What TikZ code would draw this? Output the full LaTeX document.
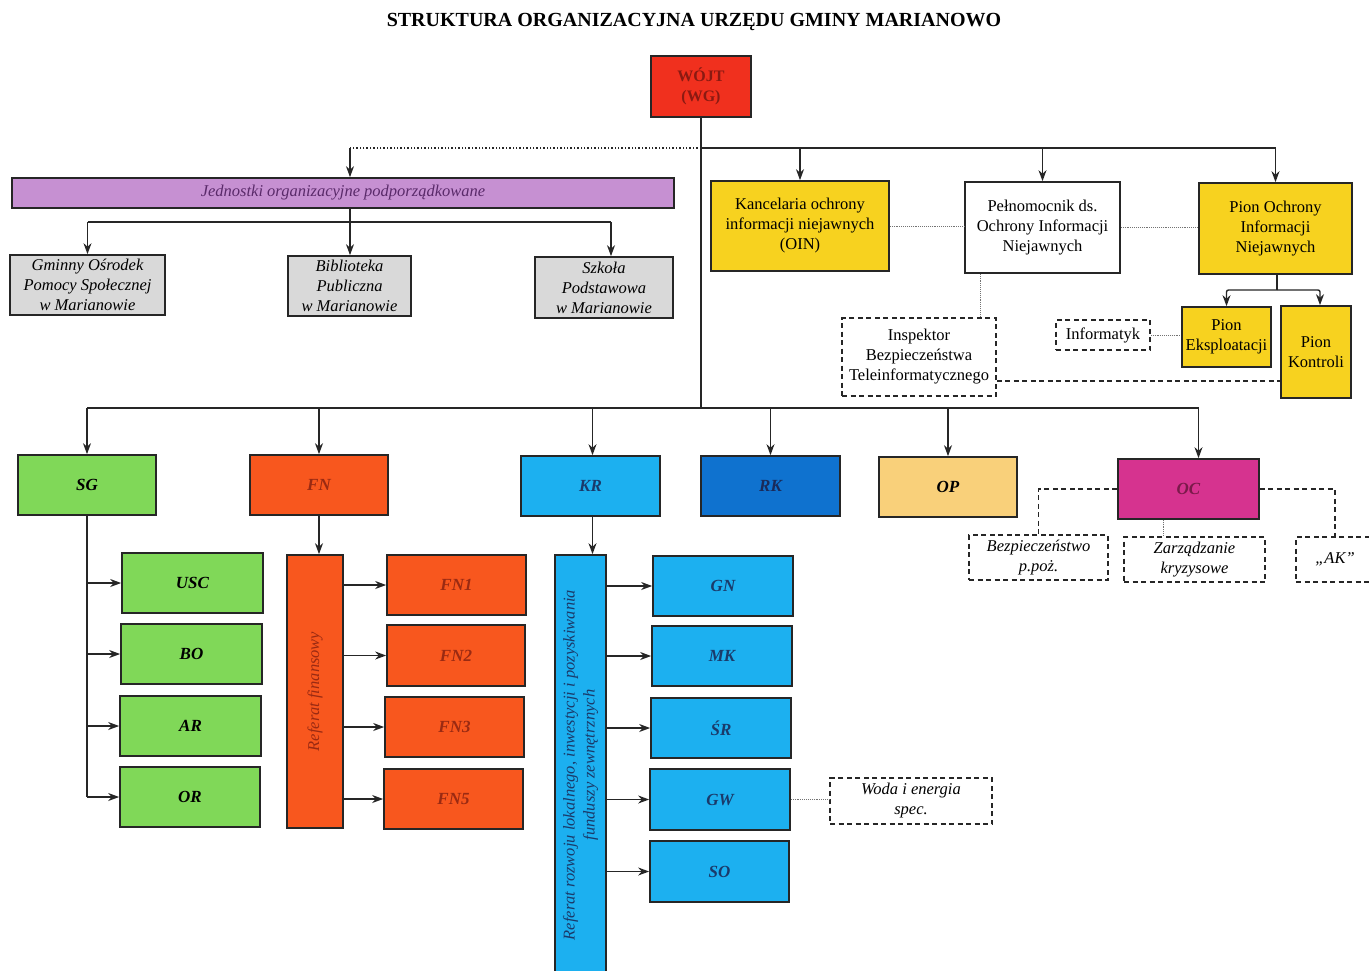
\documentclass[tikz,border=0pt]{standalone}
\usepackage{fontspec}
\setmainfont{Liberation Serif}
\usetikzlibrary{arrows.meta}
\definecolor{cwojt}{HTML}{F0301E}
\definecolor{cwojtT}{HTML}{8A1A12}
\definecolor{cpurp}{HTML}{C690D2}
\definecolor{cpurpT}{HTML}{5A2A6A}
\definecolor{cgray}{HTML}{D9D9D9}
\definecolor{cyel}{HTML}{F7D21F}
\definecolor{cgreen}{HTML}{80D858}
\definecolor{corange}{HTML}{F8571E}
\definecolor{corangeT}{HTML}{9A2A12}
\definecolor{cblue}{HTML}{1CB0F0}
\definecolor{cblueT}{HTML}{1A3A6A}
\definecolor{cdblue}{HTML}{0F72CF}
\definecolor{cdblueT}{HTML}{1A2A5A}
\definecolor{cop}{HTML}{F9D07A}
\definecolor{coc}{HTML}{D6338F}
\definecolor{cocT}{HTML}{7A1A4A}
\begin{document}
\begin{tikzpicture}[x=1pt,y=-1pt,
  every node/.style={inner sep=1pt, align=center},
  txt/.style={font=\fontsize{16.5}{20}\selectfont},
  bx/.style={draw=black!85, line width=1.7pt, txt},
  dbx/.style={draw=black!85, line width=1.6pt, dash pattern=on 5pt off 3.5pt, txt, fill=white},
  sz/.style 2 args={minimum width=#1, minimum height=#2},
  ln/.style={draw=black!85, line width=1.4pt, rounded corners=2pt},
  arr/.style={ln, -{Stealth[length=11pt, width=8pt]}},
  thn/.style={draw=black!55, line width=0.9pt, densely dotted},
  dsh/.style={draw=black!85, line width=1.5pt, dash pattern=on 5pt off 3.5pt},
  bi/.style={font=\fontsize{17}{20}\selectfont\bfseries\itshape},
  it/.style={font=\fontsize{16.5}{20}\selectfont\itshape},
]
\useasboundingbox (0,0) rectangle (1369,970);
\fill[white] (0,0) rectangle (1369,970);

% title and head
\node[font=\fontsize{20}{24}\selectfont\bfseries] (title) at (694,22) {STRUKTURA ORGANIZACYJNA URZĘDU GMINY MARIANOWO};
\node[bx, sz={100}{61}, fill=cwojt, text=cwojtT, font=\fontsize{16}{20}\selectfont\bfseries] (wojt) at (701,86.5) {WÓJT\\(WG)};

% subordinate units
\node[bx, sz={662}{30}, fill=cpurp, text=cpurpT, it] (jedn) at (343,193) {Jednostki organizacyjne podporządkowane};
\node[bx, sz={155}{60}, fill=cgray, it] (gops) at (87.5,285) {Gminny Ośrodek\\Pomocy Społecznej\\w Marianowie};
\node[bx, sz={123}{60}, fill=cgray, it] (bibl) at (349.5,286) {Biblioteka\\Publiczna\\w Marianowie};
\node[bx, sz={138}{61}, fill=cgray, it] (szk) at (604,287.5) {Szkoła\\Podstawowa\\w Marianowie};

% classified info
\node[bx, sz={178}{90}, fill=cyel] (kanc) at (800,226) {Kancelaria ochrony\\informacji niejawnych\\(OIN)};
\node[bx, sz={155}{91}, fill=white] (peln) at (1042.5,227.5) {Pełnomocnik ds.\\Ochrony Informacji\\Niejawnych};
\node[bx, sz={153}{91}, fill=cyel] (pion) at (1275.5,228.5) {Pion Ochrony\\Informacji\\Niejawnych};
\node[dbx, sz={154}{78}] (insp) at (919,357) {Inspektor\\Bezpieczeństwa\\Teleinformatycznego};
\node[dbx, sz={94}{30}] (infor) at (1103,335) {Informatyk};
\node[bx, sz={89}{60}, fill=cyel] (eksp) at (1226.5,337) {Pion\\Eksploatacji};
\node[bx, sz={70}{92}, fill=cyel] (kontr) at (1316,352) {Pion\\Kontroli};

% departments
\node[bx, sz={138}{60}, fill=cgreen, bi] (SG) at (87,485) {SG};
\node[bx, sz={138}{60}, fill=corange, text=corangeT, bi] (FN) at (319,485) {FN};
\node[bx, sz={139}{60}, fill=cblue, text=cblueT, bi] (KR) at (590.5,486) {KR};
\node[bx, sz={139}{60}, fill=cdblue, text=cdblueT, bi] (RK) at (770.5,486) {RK};
\node[bx, sz={138}{60}, fill=cop, bi] (OP) at (948,487) {OP};
\node[bx, sz={141}{60}, fill=coc, text=cocT, bi] (OC) at (1188.5,489) {OC};

\node[dbx, sz={139}{45}, it] (bezp) at (1038.5,557.5) {Bezpieczeństwo\\p.poż.};
\node[dbx, sz={141}{45}, it] (zarz) at (1194.5,559.5) {Zarządzanie\\kryzysowe};
\node[dbx, sz={78}{45}, it] (AK) at (1335,559.5) {„AK”};

% SG column
\node[bx, sz={141}{60}, fill=cgreen, bi] (USC) at (192.5,583) {USC};
\node[bx, sz={141}{60}, fill=cgreen, bi] (BO) at (191.5,654) {BO};
\node[bx, sz={141}{60}, fill=cgreen, bi] (AR) at (190.5,726) {AR};
\node[bx, sz={140}{60}, fill=cgreen, bi] (OR) at (190,797) {OR};

% FN column
\node[bx, sz={56}{273}, fill=corange] (reffin) at (315,691.5) {};
\node[rotate=90, it, text=corangeT] (reffinT) at (reffin) {Referat finansowy};
\node[bx, sz={139}{60}, fill=corange, text=corangeT, bi] (FN1) at (456.5,585) {FN1};
\node[bx, sz={138}{61}, fill=corange, text=corangeT, bi] (FN2) at (456,655.5) {FN2};
\node[bx, sz={139}{60}, fill=corange, text=corangeT, bi] (FN3) at (454.5,727) {FN3};
\node[bx, sz={139}{60}, fill=corange, text=corangeT, bi] (FN5) at (453.5,799) {FN5};

% KR column
\node[bx, sz={51}{420}, fill=cblue] (refroz) at (580.5,765) {};
\node[rotate=90, it, text=cblueT] (refrozT) at (refroz) {Referat rozwoju lokalnego, inwestycji i pozyskiwania\\funduszy zewnętrznych};
\node[bx, sz={140}{60}, fill=cblue, text=cblueT, bi] (GN) at (723,586) {GN};
\node[bx, sz={140}{60}, fill=cblue, text=cblueT, bi] (MK) at (722,656) {MK};
\node[bx, sz={140}{60}, fill=cblue, text=cblueT, bi] (SR) at (721,728) {ŚR};
\node[bx, sz={140}{61}, fill=cblue, text=cblueT, bi] (GW) at (720,799.5) {GW};
\node[bx, sz={139}{61}, fill=cblue, text=cblueT, bi] (SO) at (719.5,871.5) {SO};
\node[dbx, sz={162}{46}, it] (woda) at (911,801) {Woda i energia\\spec.};

% ---------- connectors ----------
\coordinate (tb) at (701,148);
\coordinate (bus) at (701,408);
\coordinate (pb) at (1277,290);
\coordinate (jb) at (350,222);

\draw[ln] (wojt.south) -- (bus);
% top bus
\draw[ln] (tb) -- (tb -| pion.north);
\draw[arr] (tb -| kanc.north) -- (kanc.north);
\draw[arr] (tb -| peln.north) -- (peln.north);
\draw[arr] (tb -| pion.north) -- (pion.north);
\draw[ln, dotted, line width=1.3pt] (tb) -- (tb -| jb);
\draw[arr] (tb -| jb) -- (jb |- jedn.north);

% subordinate units
\draw[ln] (jb |- jedn.south) -- (jb);
\draw[ln] (jb -| gops.north) -- ([xshift=7]jb -| szk.north);
\draw[arr] (jb -| gops.north) -- (gops.north);
\draw[arr] (jb) -- (jb |- bibl.north);
\draw[arr] ([xshift=7]jb -| szk.north) -- ([xshift=7]szk.north);

% classified info links
\draw[thn] (kanc.east) -- (kanc.east -| peln.west);
\draw[thn] (peln.east) -- (peln.east -| pion.west);
\draw[thn] ([xshift=-62]peln.south) -- ([xshift=-62]peln.south |- insp.north);
\draw[ln] (pion.south -| pb) -- (pb);
\draw[arr] (pb) -| (eksp.north);
\draw[arr] (pb) -| ([xshift=4]kontr.north);
\draw[thn] (infor.east) -- (infor.east -| eksp.west);
\draw[dsh] ([yshift=-24]insp.east) -- ([yshift=-24]insp.east -| kontr.west);

% bottom bus
\draw[ln] (bus -| SG.north) -- ([xshift=10]bus -| OC.north);
\draw[arr] (bus -| SG.north) -- (SG.north);
\draw[arr] (bus -| FN.north) -- (FN.north);
\draw[arr] ([xshift=2]bus -| KR.north) -- ([xshift=2]KR.north);
\draw[arr] (bus -| RK.north) -- (RK.north);
\draw[arr] (bus -| OP.north) -- (OP.north);
\draw[arr] ([xshift=10]bus -| OC.north) -- ([xshift=10]OC.north);

% OC
\draw[dsh] (OC.west) -| (bezp.north);
\draw[dsh] (OC.east) -| (AK.north);
\draw[thn] ([xshift=-25]OC.south) -- ([xshift=-25]OC.south |- zarz.north);

% SG column
\draw[ln] (SG.south) -- (SG.south |- OR.west);
\draw[arr] (SG.south |- USC.west) -- (USC.west);
\draw[arr] (SG.south |- BO.west) -- (BO.west);
\draw[arr] (SG.south |- AR.west) -- (AR.west);
\draw[arr] (SG.south |- OR.west) -- (OR.west);

% FN column
\draw[arr] (FN.south) -- (FN.south |- reffin.north);
\draw[arr] (reffin.east |- FN1.west) -- (FN1.west);
\draw[arr] (reffin.east |- FN2.west) -- (FN2.west);
\draw[arr] (reffin.east |- FN3.west) -- (FN3.west);
\draw[arr] (reffin.east |- FN5.west) -- (FN5.west);

% KR column
\draw[arr] ([xshift=2]KR.south) -- ([xshift=2]KR.south |- refroz.north);
\draw[arr] (refroz.east |- GN.west) -- (GN.west);
\draw[arr] (refroz.east |- MK.west) -- (MK.west);
\draw[arr] (refroz.east |- SR.west) -- (SR.west);
\draw[arr] (refroz.east |- GW.west) -- (GW.west);
\draw[arr] (refroz.east |- SO.west) -- (SO.west);
\draw[thn] (GW.east) -- (GW.east -| woda.west);
\end{tikzpicture}
\end{document}
